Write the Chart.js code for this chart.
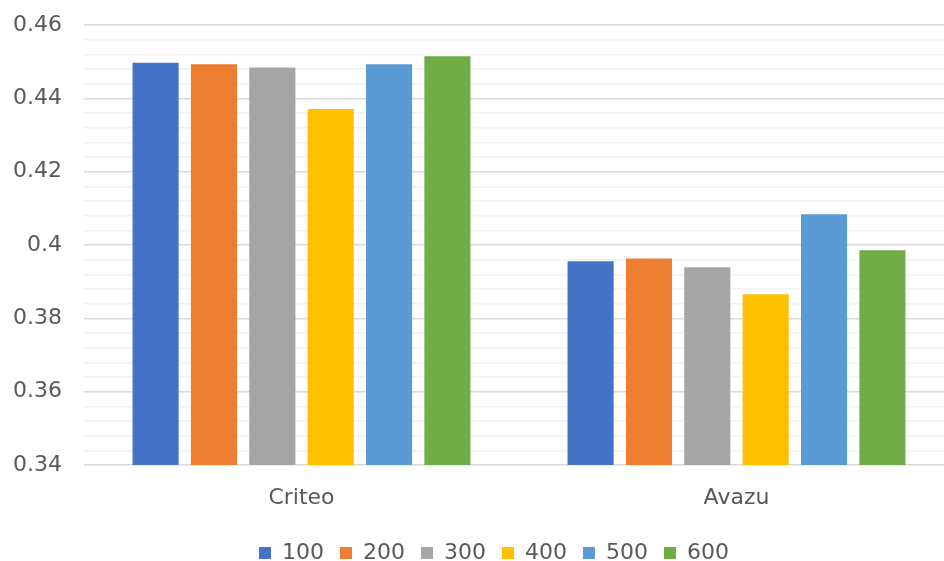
<!DOCTYPE html>
<html>
<head>
<meta charset="utf-8">
<script src="https://cdn.jsdelivr.net/npm/chart.js@4/dist/chart.umd.min.js"></script>
<style>
  html, body { margin: 0; padding: 0; background: #fff; overflow: hidden; }
  #wrap { width: 944px; height: 561px; overflow: hidden; position: relative; }
  #box { width: 954px; height: 574px; position: absolute; left: 0; top: 0; }
</style>
</head>
<body>
<div id="wrap"><div id="box"><canvas id="c"></canvas></div></div>
<script>
const categories = ['Criteo', 'Avazu'];
const seriesNames = ['100', '200', '300', '400', '500', '600'];
const s100 = [0.4497, 0.3956];
const s200 = [0.4493, 0.3963];
const s300 = [0.4484, 0.3939];
const s400 = [0.4371, 0.3866];
const s500 = [0.4493, 0.4084];
const s600 = [0.4515, 0.3986];
const yMajorTicks = [0.34, 0.36, 0.38, 0.4, 0.42, 0.44, 0.46];
const colors = ['#4472C4', '#ED7D31', '#A5A5A5', '#FFC000', '#5B9BD5', '#70AD47'];

const seriesValues = [s100, s200, s300, s400, s500, s600];
const isMajor = v => yMajorTicks.some(t => Math.abs(t - v) < 1e-7);

Chart.defaults.font.family = '"DejaVu Sans", sans-serif';
Chart.defaults.font.size = 22;
Chart.defaults.color = '#595959';

const legendShift = {
  id: 'legendShift',
  afterLayout(chart) {
    const l = chart.legend;
    if (l) { l.left += 17; l.right += 17; }
  }
};

new Chart(document.getElementById('c'), {
  type: 'bar',
  data: {
    labels: categories,
    datasets: seriesNames.map((n, i) => ({
      label: n,
      data: seriesValues[i],
      backgroundColor: colors[i],
      borderWidth: 0,
      barPercentage: 0.79,
      categoryPercentage: 0.805
    }))
  },
  plugins: [legendShift],
  options: {
    responsive: true,
    maintainAspectRatio: false,
    animation: false,
    layout: { padding: { left: 0, right: 0, top: 25, bottom: 0 } },
    plugins: {
      tooltip: { enabled: false },
      legend: {
        position: 'bottom',
        labels: { boxWidth: 12, boxHeight: 12, padding: 16, font: { size: 22 } }
      }
    },
    scales: {
      x: {
        grid: { display: false, drawTicks: false },
        border: { display: false },
        ticks: { padding: 20, font: { size: 22 } },
        afterFit: s => { s.height = 61; }
      },
      y: {
        min: 0.34,
        max: 0.46,
        border: { display: false },
        grid: {
          drawTicks: false,
          lineWidth: 1.5,
          color: ctx => isMajor(ctx.tick.value) ? '#d9d9d9' : '#f2f2f2'
        },
        ticks: {
          stepSize: 0.004,
          autoSkip: false,
          padding: 22,
          font: { size: 22 },
          callback: v => isMajor(v) ? String(Number(v.toFixed(2))) : ''
        },
        afterFit: s => { s.width = 84; s.paddingTop = 0; s.paddingBottom = 0; }
      }
    }
  }
});
</script>
</body>
</html>
